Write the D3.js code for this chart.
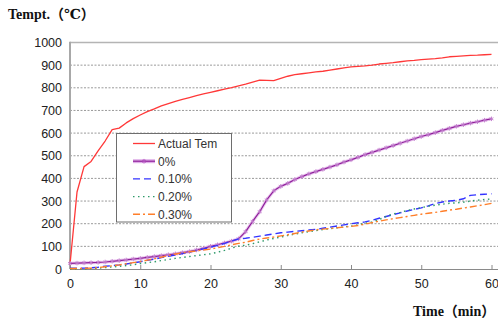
<!DOCTYPE html>
<html>
<head>
<meta charset="utf-8">
<script src="https://cdn.jsdelivr.net/npm/d3@7/dist/d3.min.js"></script>
<style>
  html, body { margin: 0; padding: 0; background: #fff; }
  svg { display: block; }
</style>
</head>
<body>
<svg id="chart" width="498" height="322"></svg>
<script>
// Time in minutes (one sample per minute)
const minutes = d3.range(0, 61);

// Furnace temperature and specimen temperatures (°C)
const actualTem = [20, 340, 452, 475, 522, 565, 615, 622, 645, 664, 680, 695, 707, 720, 730,
  740, 749, 757, 765, 773, 780, 787, 794, 801, 809, 816, 825, 834, 833, 832,
  842, 851, 858, 862, 866, 870, 873, 878, 883, 888, 892, 895, 897, 900, 905,
  908, 911, 915, 919, 921, 924, 927, 929, 932, 937, 939, 941, 943, 944, 946, 948];
const pct0 = [25, 26, 27, 28, 29, 31, 34, 37, 40, 44, 47, 51, 55, 59, 63,
  67, 72, 77, 84, 91, 100, 107, 115, 123, 133, 165, 210, 253, 305, 345,
  365, 378, 395, 408, 420, 430, 440, 450, 460, 472, 482, 493, 505, 515, 525,
  535, 545, 555, 565, 575, 585, 593, 602, 612, 621, 630, 637, 644, 650, 657, 663];
const pct010 = [3, 3, 4, 5, 8, 12, 15, 18, 22, 27, 32, 38, 44, 50, 56,
  62, 68, 75, 82, 89, 96, 104, 113, 123, 133, 136, 140, 145, 150, 155,
  160, 163, 166, 169, 172, 175, 180, 185, 190, 195, 200, 204, 208, 215, 224,
  232, 240, 248, 256, 263, 270, 279, 289, 296, 300, 303, 310, 325, 328, 330, 332];
const pct020 = [0, 0, 1, 2, 4, 6, 9, 12, 15, 19, 24, 28, 32, 37, 42,
  47, 51, 55, 59, 63, 67, 74, 82, 92, 101, 105, 112, 120, 128, 135,
  141, 148, 154, 160, 165, 170, 174, 178, 182, 186, 189, 195, 201, 208, 218,
  232, 243, 250, 258, 265, 271, 277, 282, 286, 290, 292, 295, 300, 304, 307, 309];
const pct030 = [2, 2, 3, 4, 6, 10, 14, 18, 23, 28, 33, 39, 45, 52, 59,
  66, 71, 76, 80, 84, 88, 94, 100, 107, 113, 118, 126, 132, 137, 141,
  146, 151, 157, 163, 168, 173, 176, 179, 182, 185, 188, 192, 198, 205, 211,
  217, 222, 227, 232, 237, 242, 246, 250, 255, 260, 264, 269, 274, 279, 284, 290];

const seriesNames = ["Actual Tem", "0%", "0.10%", "0.20%", "0.30%"];
const xTicks = [0, 10, 20, 30, 40, 50, 60];
const yTicks = [0, 100, 200, 300, 400, 500, 600, 700, 800, 900, 1000];
const yTitle = "Tempt.（℃）";
const xTitle = "Time（min）";

const series = [
  { name: seriesNames[0], values: actualTem, color: "#ff3838", dash: null, width: 1.3 },
  { name: seriesNames[1], values: pct0, color: "#8e1f9a", dash: null, width: 1.2, halo: true },
  { name: seriesNames[2], values: pct010, color: "#3434ff", dash: "7,4", width: 1.4 },
  { name: seriesNames[3], values: pct020, color: "#2f9a6a", dash: "1.5,3.5", width: 1.4 },
  { name: seriesNames[4], values: pct030, color: "#ff7f2a", dash: "7,3,2,3", width: 1.4 }
];

const svg = d3.select("#chart");
const plotLeft = 70, plotRight = 491.5, plotTop = 42.5, plotBottom = 269, frameRight = 498;

const x = d3.scaleLinear().domain([0, 60]).range([plotLeft, plotRight]);
const y = d3.scaleLinear().domain([0, 1000]).range([plotBottom, plotTop]);

// horizontal dotted grid
svg.append("g")
  .selectAll("line")
  .data(yTicks.filter(v => v > 0 && v < 1000))
  .join("line")
  .attr("x1", plotLeft).attr("x2", frameRight)
  .attr("y1", d => y(d)).attr("y2", d => y(d))
  .attr("stroke", "#9a9a9a").attr("stroke-width", 1)
  .attr("stroke-dasharray", "2,1.5");

// frame: top edge and left edge
svg.append("line").attr("x1", plotLeft).attr("x2", frameRight).attr("y1", plotTop).attr("y2", plotTop)
  .attr("stroke", "#b4b4b4").attr("stroke-width", 1.5);
svg.append("line").attr("x1", plotLeft).attr("x2", plotLeft).attr("y1", plotTop - 0.7).attr("y2", plotBottom)
  .attr("stroke", "#a8a8a8").attr("stroke-width", 2);

// bottom axis with inward ticks
const xAxis = d3.axisBottom(x).tickValues(xTicks).tickSize(-4).tickSizeOuter(0).tickPadding(10);
const gx = svg.append("g").attr("transform", `translate(0,${plotBottom})`).call(xAxis);
gx.select(".domain").attr("d", `M${plotLeft},0.5H${frameRight}`).attr("stroke", "#8a8a8a").attr("stroke-width", 1.2);
gx.selectAll(".tick line").attr("stroke", "#8a8a8a");
gx.selectAll(".tick text")
  .attr("font-family", "'Liberation Sans', Arial, sans-serif")
  .attr("font-size", 12.5).attr("fill", "#222");

// left axis labels
const yAxis = d3.axisLeft(y).tickValues(yTicks).tickFormat(d3.format("d")).tickSize(0).tickPadding(8);
const gy = svg.append("g").attr("transform", `translate(${plotLeft},0)`).call(yAxis);
gy.select(".domain").remove();
gy.selectAll(".tick text")
  .attr("font-family", "'Liberation Sans', Arial, sans-serif")
  .attr("font-size", 12.5).attr("fill", "#222");

const line = d3.line().x((d, i) => x(minutes[i])).y(d => y(d));
const star = d3.symbol().type(d3.symbolAsterisk).size(14);

// data lines
series.forEach(s => {
  if (s.halo) {
    svg.append("path").datum(s.values).attr("d", line)
      .attr("fill", "none").attr("stroke", "#ebc8f0").attr("stroke-width", 3.2)
      .attr("stroke-linejoin", "round");
  }
  svg.append("path").datum(s.values).attr("d", line)
    .attr("fill", "none").attr("stroke", s.color).attr("stroke-width", s.width)
    .attr("stroke-dasharray", s.dash).attr("stroke-linejoin", "round");
  if (s.halo) {
    svg.append("g").selectAll("path")
      .data(s.values)
      .join("path")
      .attr("d", star)
      .attr("transform", (d, i) => `translate(${x(minutes[i])},${y(d)})`)
      .attr("fill", "none").attr("stroke", "#c07acb").attr("stroke-width", 0.9);
  }
});

// legend
const lg = svg.append("g");
lg.append("rect").attr("x", 116.5).attr("y", 133.5).attr("width", 115).attr("height", 88.5)
  .attr("fill", "#fff").attr("stroke", "#6e6e6e").attr("stroke-width", 1);
series.forEach((s, i) => {
  const ly = 143.5 + i * 17.7;
  if (s.halo) {
    lg.append("line").attr("x1", 133).attr("x2", 155).attr("y1", ly).attr("y2", ly)
      .attr("stroke", "#dfaee8").attr("stroke-width", 4);
  }
  lg.append("line").attr("x1", 133).attr("x2", 155).attr("y1", ly).attr("y2", ly)
    .attr("stroke", s.color).attr("stroke-width", s.width).attr("stroke-dasharray", s.dash);
  if (s.halo) {
    lg.append("path").attr("d", star)
      .attr("transform", `translate(144,${ly})`)
      .attr("fill", "none").attr("stroke", "#b150bd").attr("stroke-width", 1);
  }
  lg.append("text").attr("x", 158).attr("y", ly + 4.3)
    .attr("font-family", "'Liberation Sans', Arial, sans-serif")
    .attr("font-size", 12).attr("fill", "#333")
    .text(s.name);
});

// axis titles
const titleFont = "'Liberation Serif', 'DejaVu Serif', 'Noto Sans CJK KR', serif";
svg.append("text").attr("x", 8).attr("y", 19)
  .attr("font-family", titleFont)
  .attr("font-weight", "bold").attr("font-size", 14).attr("fill", "#111")
  .text(yTitle);
svg.append("text").attr("x", 413).attr("y", 316)
  .attr("font-family", titleFont)
  .attr("font-weight", "bold").attr("font-size", 14).attr("fill", "#111")
  .text(xTitle);
</script>
</body>
</html>
